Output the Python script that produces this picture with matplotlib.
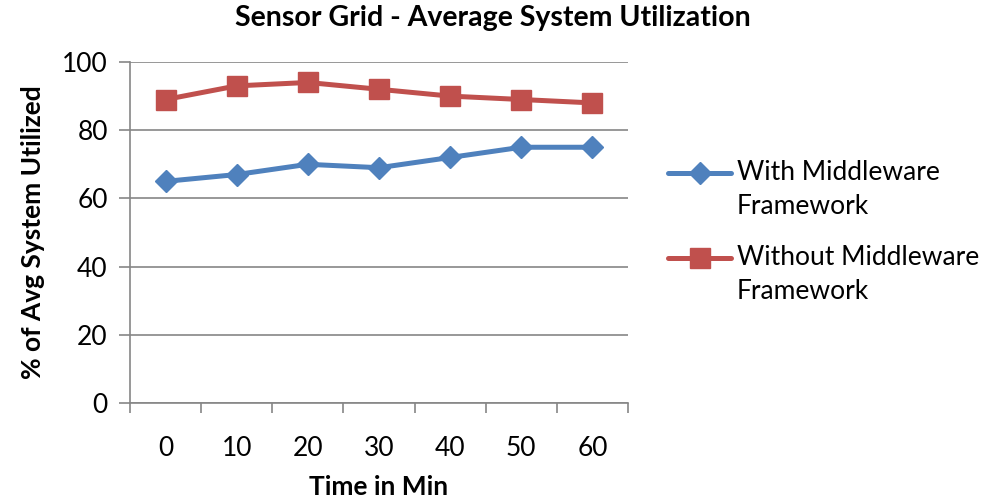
import matplotlib
matplotlib.use("Agg")
import matplotlib.pyplot as plt
import numpy as np
from matplotlib.ticker import FixedLocator, NullFormatter

categories = ["0", "10", "20", "30", "40", "50", "60"]
with_mw = [65, 67, 70, 69, 72, 75, 75]
without_mw = [89, 93, 94, 92, 90, 89, 88]
yticks = [0, 20, 40, 60, 80, 100]

plt.rcParams['font.family'] = ['Lato', 'DejaVu Sans']

fig = plt.figure(figsize=(9.86, 5.01), dpi=100)
ax = fig.add_axes([130/986, 1-403/501, (628-130)/986, (403-62)/501])

x = list(range(len(categories)))
ax.plot(x, with_mw, color='#4F81BD', lw=3.6, marker='D', ms=11,
        label='With Middleware\nFramework', solid_capstyle='round')
ax.plot(x, without_mw, color='#C0504D', lw=3.6, marker='s', ms=14,
        label='Without Middleware\nFramework', solid_capstyle='round')

ax.set_xlim(-0.5, len(categories) - 0.5)
ax.set_ylim(0, 100)
ax.set_yticks(yticks)
ax.yaxis.grid(True, color='#868686', lw=1.2)
ax.set_axisbelow(True)

ax.set_xticks(x)
ax.set_xticklabels(categories)
ax.xaxis.set_minor_locator(FixedLocator([i - 0.5 for i in range(len(categories) + 1)]))
ax.xaxis.set_minor_formatter(NullFormatter())
ax.tick_params(axis='x', which='major', length=0, pad=24, labelsize=19)
ax.tick_params(axis='x', which='minor', length=7, width=1.2, color='#868686', direction='out')
ax.tick_params(axis='y', length=8, width=1.2, color='#868686', pad=8, labelsize=19)

for s in ['top', 'right']:
    ax.spines[s].set_visible(False)
for s in ['left', 'bottom']:
    ax.spines[s].set_color('#868686')
    ax.spines[s].set_linewidth(1.2)

ax.set_xlabel('Time in Min', fontsize=19, fontweight='bold', labelpad=10)
ax.set_ylabel('% of Avg System Utilized', fontsize=19, fontweight='bold', labelpad=12)
fig.suptitle('Sensor Grid - Average System Utilization', fontsize=20.5, fontweight='bold',
             x=0.5, y=0.99)

leg = ax.legend(loc='upper left', bbox_to_anchor=(668/986, 1-160/501),
                bbox_transform=fig.transFigure, frameon=False, fontsize=19,
                handlelength=2.4, labelspacing=1.0, handletextpad=0.2,
                borderaxespad=0, borderpad=0)
for t in leg.get_texts():
    t.set_linespacing(1.45)
# align legend handles with the first line of each two-line label
for h in leg.legend_handles:
    h.set_ydata(np.asarray(h.get_ydata()) + 12.4)

fig.savefig('out.png', dpi=100)
